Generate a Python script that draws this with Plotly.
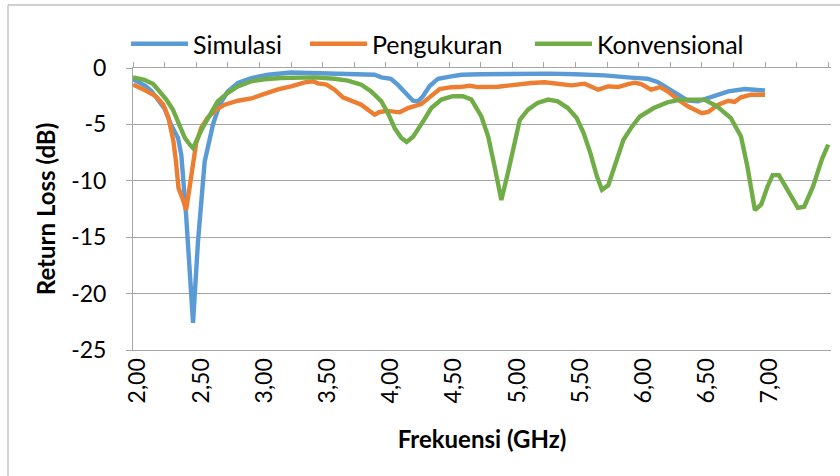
import plotly.graph_objects as go

# ---- data ----
sim_f = [2.00, 2.05, 2.10, 2.15, 2.20, 2.25, 2.30, 2.356, 2.382, 2.42, 2.475, 2.514, 2.567, 2.593,
         2.633, 2.686, 2.75, 2.83, 2.936, 3.07, 3.25, 3.40, 3.54, 3.70, 3.91, 3.965, 4.04, 4.096,
         4.163, 4.215, 4.255, 4.294, 4.347, 4.413, 4.518, 4.60, 4.75, 4.89, 5.10, 5.30, 5.50,
         5.73, 5.94, 6.07, 6.15, 6.23, 6.31, 6.39, 6.47, 6.55, 6.63, 6.71, 6.84, 7.00]
sim_db = [-1.0, -1.25, -1.6, -2.1, -2.8, -3.6, -5.0, -6.2, -7.7, -13.0, -22.6, -15.4, -8.3, -6.8,
          -5.0, -3.25, -2.07, -1.33, -0.9, -0.6, -0.4, -0.44, -0.5, -0.55, -0.6, -0.83, -0.95, -1.5,
          -2.37, -2.9, -2.96, -2.5, -1.6, -0.95, -0.74, -0.6, -0.55, -0.53, -0.5, -0.5, -0.55,
          -0.65, -0.85, -0.95, -1.24, -1.78, -2.43, -2.9, -2.96, -2.66, -2.37, -2.07, -1.86, -2.0]

ukur_f = [2.00, 2.05, 2.10, 2.18, 2.24, 2.28, 2.32, 2.34, 2.36, 2.396, 2.42, 2.45, 2.475, 2.50,
          2.54, 2.59, 2.66, 2.725, 2.83, 2.936, 3.04, 3.147, 3.25, 3.32, 3.36, 3.424, 3.463, 3.53,
          3.595, 3.66, 3.727, 3.806, 3.859, 3.912, 3.951, 4.017, 4.11, 4.176, 4.28, 4.334, 4.426,
          4.518, 4.584, 4.663, 4.73, 4.888, 5.02, 5.15, 5.257, 5.36, 5.468, 5.573, 5.64, 5.68,
          5.758, 5.837, 5.917, 5.97, 6.02, 6.10, 6.17, 6.23, 6.31, 6.39, 6.50, 6.55, 6.63, 6.71,
          6.76, 6.81, 6.89, 7.00]
ukur_db = [-1.48, -1.7, -2.0, -2.5, -3.25, -4.4, -6.5, -8.3, -10.65, -11.7, -12.6, -10.4, -8.3, -6.65,
           -5.3, -4.4, -3.7, -3.25, -2.9, -2.7, -2.3, -1.9, -1.63, -1.42, -1.27, -1.18, -1.36, -1.48,
           -1.92, -2.6, -2.9, -3.25, -3.7, -4.14, -3.9, -3.8, -3.93, -3.55, -3.2, -2.66, -1.86,
           -1.7, -1.69, -1.57, -1.69, -1.66, -1.48, -1.33, -1.27, -1.39, -1.54, -1.39, -1.78, -1.92,
           -1.63, -1.69, -1.42, -1.3, -1.42, -1.92, -1.7, -2.07, -2.8, -3.4, -4.0, -3.9, -3.25, -2.9,
           -3.0, -2.6, -2.37, -2.37]

konv_f = [2.00, 2.09, 2.16, 2.21, 2.264, 2.316, 2.37, 2.41, 2.45, 2.475, 2.50, 2.55, 2.61, 2.67,
          2.75, 2.83, 2.936, 3.04, 3.17, 3.32, 3.437, 3.595, 3.70, 3.806, 3.885, 3.965, 4.017, 4.07,
          4.123, 4.165, 4.216, 4.295, 4.36, 4.44, 4.53, 4.61, 4.677, 4.756, 4.81, 4.86, 4.914,
          4.966, 5.02, 5.06, 5.125, 5.20, 5.284, 5.36, 5.44, 5.51, 5.565, 5.617, 5.67, 5.71, 5.76,
          5.815, 5.88, 5.947, 6.01, 6.12, 6.227, 6.33, 6.44, 6.52, 6.62, 6.73, 6.81, 6.86, 6.92,
          6.97, 7.02, 7.06, 7.11, 7.18, 7.26, 7.31, 7.38, 7.45, 7.50]
konv_db = [-0.83, -1.04, -1.42, -2.07, -2.8, -3.7, -5.03, -6.2, -6.8, -7.1, -6.5, -5.3, -4.14, -2.96,
           -2.2, -1.63, -1.18, -1.0, -0.89, -0.83, -0.83, -0.95, -1.12, -1.48, -2.07, -2.96, -4.0, -5.33,
           -6.2, -6.55, -6.1, -4.73, -3.55, -2.8, -2.5, -2.5, -2.8, -4.3, -6.07, -8.7, -11.7,
           -9.3, -6.36, -4.6, -3.7, -3.1, -2.8, -2.96, -3.55, -4.44, -5.77, -7.5, -9.6, -10.8, -10.4,
           -8.4, -6.36, -5.2, -4.3, -3.55, -3.05, -2.8, -2.75, -2.8, -3.4, -4.44, -6.07, -8.7, -12.6,
           -12.1, -10.5, -9.5, -9.5, -10.8, -12.4, -12.3, -10.5, -8.1, -6.8]

x_tickvals = [2.0, 2.5, 3.0, 3.5, 4.0, 4.5, 5.0, 5.5, 6.0, 6.5, 7.0]
x_ticktext = ["2,00", "2,50", "3,00", "3,50", "4,00", "4,50", "5,00", "5,50", "6,00", "6,50", "7,00"]
x_minor_ticks = [2.0 + 0.25 * i for i in range(23)]
y_tickvals = [0, -5, -10, -15, -20, -25]
y_ticktext = ["0", "-5", "-10", "-15", "-20", "-25"]

names = ["Simulasi", "Pengukuran", "Konvensional"]
colors = ["#5B9BD5", "#ED7D31", "#70AD47"]

FONT = "Lato"
GRID = "#a6a6a6"

fig = go.Figure()
series = [(sim_f, sim_db), (ukur_f, ukur_db), (konv_f, konv_db)]
legends = ["legend", "legend2", "legend3"]
for (fx, fy), nm, col, lg in zip(series, names, colors, legends):
    fig.add_trace(go.Scatter(x=fx, y=fy, mode="lines", name=nm, legend=lg,
                             line=dict(color=col, width=4.4, shape="linear")))

# invisible trace carrying the top axis with tick marks
fig.add_trace(go.Scatter(x=[2.0, 7.5], y=[0, 0], xaxis="x2", mode="lines",
                         line=dict(width=0), showlegend=False, hoverinfo="skip"))

def leg(xpx):
    return dict(orientation="h", xref="container", yref="container",
                x=xpx / 840, y=1 - 44 / 476, xanchor="left", yanchor="middle",
                font=dict(family=FONT, size=25, color="#000000"),
                itemwidth=57, bgcolor="rgba(0,0,0,0)", borderwidth=0)

fig.update_layout(
    template="none",
    width=840, height=476,
    margin=dict(l=133, r=9, t=68, b=126, autoexpand=False),
    paper_bgcolor="white", plot_bgcolor="white",
    font=dict(family=FONT, size=25, color="#000000"),
    legend=leg(126), legend2=leg(305), legend3=leg(530),
    xaxis=dict(range=[2.0, 7.522], tickmode="array", tickvals=x_tickvals, ticktext=x_ticktext,
               tickangle=-90, ticks="", showgrid=False, zeroline=False, automargin=False,
               showline=True, linecolor=GRID, linewidth=1,
               ticklabelshift=5, ticklabelstandoff=-2,
               tickfont=dict(family=FONT, size=23, color="#000000"),
               title=dict(text="<b>Frekuensi (GHz)</b>", standoff=28,
                          font=dict(family=FONT, size=24, color="#000000"))),
    xaxis2=dict(range=[2.0, 7.522], overlaying="x", side="top", anchor="y", automargin=False,
                tickmode="array", tickvals=x_minor_ticks, ticks="outside", ticklen=5,
                tickcolor=GRID, showticklabels=False, showgrid=False, zeroline=False,
                showline=True, linecolor=GRID, linewidth=1),
    yaxis=dict(range=[-25, 0], tickmode="array", tickvals=y_tickvals, ticktext=y_ticktext,
               automargin=False, ticks="outside", ticklen=6, tickcolor=GRID,
               showgrid=True, gridcolor=GRID, gridwidth=1, zeroline=False,
               showline=True, linecolor=GRID, linewidth=1, ticklabelstandoff=15,
               tickfont=dict(family=FONT, size=23, color="#000000"),
               title=dict(text="<b>Return Loss (dB)</b>", standoff=8,
                          font=dict(family=FONT, size=24, color="#000000"))),
    shapes=[
        dict(type="line", xref="paper", yref="paper", x0=-125 / 698, x1=840 / 698,
             y0=1 + 63 / 282, y1=1 + 63 / 282, line=dict(color="#bfbfbf", width=1.3)),
        dict(type="line", xref="paper", yref="paper", x0=-125 / 698, x1=-125 / 698,
             y0=1 + 63 / 282, y1=-130 / 282, line=dict(color="#bfbfbf", width=1.3)),
    ],
)

fig.write_html("out.html", config={"displayModeBar": False},
               post_script="document.body.style.margin='0px';")
